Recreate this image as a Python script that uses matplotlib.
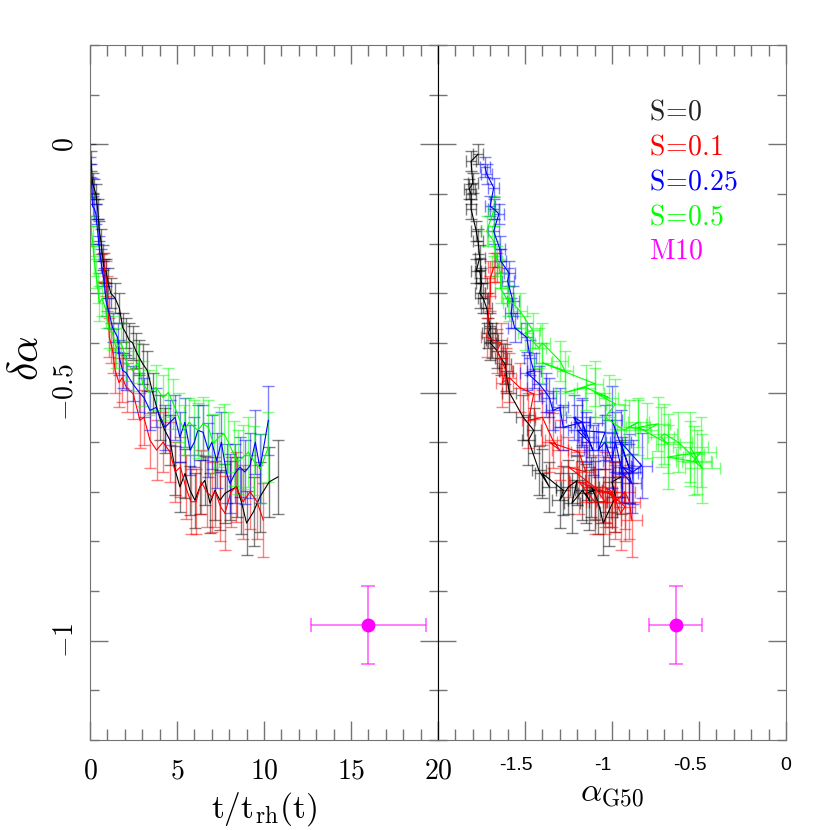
import matplotlib
matplotlib.use("Agg")
import matplotlib.pyplot as plt
import matplotlib.transforms as mtransforms
from matplotlib.ticker import MultipleLocator, FuncFormatter

plt.rcParams['mathtext.fontset'] = 'cm'
plt.rcParams['font.family'] = ['DejaVu Sans']

# ---------------- data ----------------
# S=0 (black)
t_s0 = [0.02, 0.06, 0.15, 0.25, 0.34, 0.44, 0.54, 0.63, 0.73, 0.82,
        0.92, 1.05, 1.2, 1.45, 1.69, 1.88, 2.06, 2.26, 2.45, 2.64,
        2.84, 3.03, 3.3, 3.6, 4.0, 4.3, 4.6, 4.9, 5.17, 5.46,
        5.75, 6.03, 6.32, 6.6, 6.9, 7.18, 7.47, 7.76, 8.05, 8.43,
        8.7, 9.0, 9.4, 9.77, 10.3, 10.8]
da_s0 = [-0.02, -0.034, -0.078, -0.09, -0.10, -0.13, -0.175, -0.195, -0.228, -0.255,
         -0.255, -0.28, -0.30, -0.31, -0.33, -0.369, -0.38, -0.395, -0.40, -0.416,
         -0.43, -0.442, -0.456, -0.50, -0.55, -0.576, -0.596, -0.657, -0.69, -0.663,
         -0.697, -0.717, -0.69, -0.677, -0.723, -0.697, -0.717, -0.703, -0.697, -0.69,
         -0.72, -0.763, -0.74, -0.71, -0.68, -0.67]
ag_s0 = [-1.77, -1.81, -1.80, -1.82, -1.81, -1.81, -1.78, -1.77, -1.76, -1.78,
         -1.76, -1.75, -1.76, -1.74, -1.72, -1.70, -1.71, -1.69, -1.70, -1.66,
         -1.64, -1.615, -1.61, -1.59, -1.51, -1.45, -1.48, -1.42, -1.36, -1.40,
         -1.28, -1.30, -1.25, -1.20, -1.23, -1.17, -1.13, -1.15, -1.10, -1.12,
         -1.08, -1.05, -1.02, -0.98, -1.00, -0.95]
eda_s0 = [0.02, 0.02, 0.02, 0.02, 0.02, 0.02, 0.02, 0.025, 0.025, 0.025,
          0.025, 0.03, 0.03, 0.03, 0.03, 0.03, 0.03, 0.035, 0.035, 0.035,
          0.035, 0.04, 0.04, 0.04, 0.045, 0.045, 0.05, 0.05, 0.05, 0.05,
          0.05, 0.055, 0.055, 0.05, 0.06, 0.06, 0.06, 0.06, 0.06, 0.06,
          0.065, 0.065, 0.07, 0.07, 0.07, 0.075]
eag_s0 = [0.03, 0.03, 0.03, 0.03, 0.03, 0.03, 0.03, 0.03, 0.03, 0.03,
          0.03, 0.03, 0.03, 0.03, 0.03, 0.035, 0.035, 0.035, 0.035, 0.035,
          0.035, 0.035, 0.04, 0.04, 0.04, 0.04, 0.04, 0.04, 0.04, 0.04,
          0.04, 0.045, 0.045, 0.045, 0.045, 0.045, 0.045, 0.045, 0.045, 0.045,
          0.05, 0.05, 0.05, 0.05, 0.05, 0.05]

# S=0.1 (red)
t_s1 = [0.75, 0.82, 0.92, 1.0, 1.11, 1.2, 1.3, 1.45, 1.67, 1.85,
        2.1, 2.49, 2.87, 3.1, 3.45, 3.83, 4.2, 4.6, 4.9, 5.2,
        5.5, 5.8, 6.1, 6.4, 6.7, 7.0, 7.2, 7.5, 7.76, 8.1,
        8.4, 8.8, 9.2, 9.6, 9.96]
da_s1 = [-0.248, -0.248, -0.27, -0.30, -0.389, -0.40, -0.416, -0.456, -0.48, -0.47,
         -0.49, -0.503, -0.556, -0.55, -0.596, -0.616, -0.60, -0.62, -0.66, -0.65,
         -0.69, -0.72, -0.72, -0.68, -0.70, -0.71, -0.70, -0.73, -0.743, -0.70,
         -0.69, -0.72, -0.70, -0.72, -0.757]
ag_s1 = [-1.66, -1.68, -1.70, -1.70, -1.72, -1.64, -1.66, -1.61, -1.63, -1.59,
         -1.53, -1.45, -1.48, -1.40, -1.34, -1.30, -1.36, -1.19, -1.15, -1.25,
         -1.10, -1.04, -1.10, -1.19, -1.04, -0.98, -1.02, -0.925, -0.95, -1.00,
         -1.04, -0.98, -0.925, -0.90, -0.886]
eda_s1 = [0.03, 0.03, 0.035, 0.035, 0.04, 0.04, 0.045, 0.045, 0.05, 0.05,
          0.05, 0.05, 0.055, 0.055, 0.055, 0.06, 0.06, 0.06, 0.06, 0.06,
          0.065, 0.065, 0.065, 0.065, 0.07, 0.07, 0.07, 0.07, 0.075, 0.07,
          0.07, 0.075, 0.075, 0.075, 0.075]
eag_s1 = [0.03, 0.03, 0.03, 0.03, 0.035, 0.035, 0.035, 0.035, 0.035, 0.04,
          0.04, 0.04, 0.04, 0.04, 0.045, 0.045, 0.045, 0.045, 0.045, 0.045,
          0.05, 0.05, 0.05, 0.05, 0.05, 0.05, 0.05, 0.055, 0.055, 0.055,
          0.055, 0.055, 0.06, 0.06, 0.06]

# S=0.25 (blue)
t_s2 = [0.03, 0.06, 0.1, 0.15, 0.25, 0.34, 0.44, 0.54, 0.63, 0.73,
        0.82, 0.92, 1.1, 1.3, 1.59, 1.69, 1.88, 2.07, 2.45, 2.84,
        3.1, 3.45, 3.8, 4.31, 4.6, 4.89, 5.17, 5.45, 5.75, 6.0,
        6.2, 6.5, 6.8, 7.0, 7.28, 7.55, 7.85, 8.05, 8.33, 8.62,
        8.9, 9.2, 9.5, 9.77, 10.25]
da_s2 = [-0.045, -0.06, -0.087, -0.125, -0.13, -0.14, -0.175, -0.21, -0.235, -0.26,
         -0.275, -0.315, -0.34, -0.369, -0.389, -0.43, -0.456, -0.46, -0.482, -0.50,
         -0.51, -0.536, -0.53, -0.57, -0.56, -0.55, -0.59, -0.56, -0.616, -0.60,
         -0.576, -0.58, -0.616, -0.60, -0.637, -0.60, -0.663, -0.683, -0.663, -0.65,
         -0.66, -0.647, -0.60, -0.653, -0.556]
ag_s2 = [-1.73, -1.72, -1.68, -1.70, -1.68, -1.65, -1.68, -1.645, -1.64, -1.59,
         -1.60, -1.57, -1.58, -1.56, -1.49, -1.47, -1.45, -1.49, -1.42, -1.38,
         -1.36, -1.34, -1.30, -1.28, -1.17, -1.22, -1.15, -1.17, -1.11, -1.13,
         -1.20, -1.04, -1.08, -1.04, -1.00, -0.98, -0.94, -0.886, -0.905, -0.94,
         -0.88, -0.83, -0.95, -0.90, -1.00]
eda_s2 = [0.02, 0.02, 0.02, 0.02, 0.02, 0.02, 0.025, 0.025, 0.025, 0.025,
          0.025, 0.03, 0.03, 0.03, 0.03, 0.035, 0.035, 0.035, 0.035, 0.04,
          0.04, 0.04, 0.04, 0.045, 0.045, 0.045, 0.05, 0.05, 0.05, 0.05,
          0.05, 0.055, 0.055, 0.055, 0.055, 0.06, 0.06, 0.06, 0.06, 0.06,
          0.065, 0.065, 0.065, 0.07, 0.07]
eag_s2 = [0.03, 0.03, 0.03, 0.03, 0.03, 0.03, 0.03, 0.03, 0.03, 0.03,
          0.035, 0.035, 0.035, 0.035, 0.035, 0.035, 0.04, 0.04, 0.04, 0.04,
          0.04, 0.04, 0.045, 0.045, 0.045, 0.045, 0.045, 0.045, 0.05, 0.05,
          0.05, 0.05, 0.05, 0.05, 0.05, 0.055, 0.055, 0.055, 0.055, 0.055,
          0.055, 0.06, 0.06, 0.06, 0.06]

# S=0.5 (green)
t_s3 = [0.02, 0.08, 0.15, 0.25, 0.34, 0.45, 0.54, 0.7, 0.92, 1.1,
        1.3, 1.5, 1.8, 2.07, 2.45, 2.75, 3.03, 3.4, 3.8, 4.2,
        4.5, 4.8, 5.1, 5.4, 5.7, 6.0, 6.2, 6.5, 6.8, 7.1,
        7.4, 7.7, 7.95, 8.25, 8.5, 8.8, 9.1, 9.4, 9.8, 10.25]
da_s3 = [-0.134, -0.175, -0.195, -0.235, -0.26, -0.29, -0.32, -0.31, -0.335, -0.375,
         -0.38, -0.41, -0.40, -0.436, -0.456, -0.44, -0.482, -0.50, -0.49, -0.51,
         -0.50, -0.523, -0.55, -0.576, -0.56, -0.57, -0.576, -0.563, -0.57, -0.603,
         -0.59, -0.583, -0.60, -0.623, -0.64, -0.63, -0.62, -0.637, -0.653, -0.61]
ag_s3 = [-1.68, -1.72, -1.68, -1.66, -1.64, -1.64, -1.59, -1.60, -1.53, -1.455,
         -1.50, -1.42, -1.40, -1.30, -1.27, -1.40, -1.10, -1.27, -1.15, -1.02,
         -1.10, -0.98, -1.04, -0.93, -0.85, -0.905, -0.80, -0.735, -0.85, -0.68,
         -0.72, -0.70, -0.62, -0.55, -0.51, -0.68, -0.49, -0.53, -0.48, -0.55]
eda_s3 = [0.03, 0.03, 0.03, 0.03, 0.03, 0.03, 0.035, 0.035, 0.035, 0.035,
          0.035, 0.04, 0.04, 0.04, 0.04, 0.04, 0.045, 0.045, 0.045, 0.045,
          0.05, 0.05, 0.05, 0.05, 0.05, 0.055, 0.055, 0.055, 0.055, 0.06,
          0.06, 0.06, 0.06, 0.065, 0.065, 0.065, 0.07, 0.07, 0.07, 0.07]
eag_s3 = [0.03, 0.03, 0.03, 0.03, 0.035, 0.035, 0.035, 0.035, 0.04, 0.04,
          0.04, 0.04, 0.045, 0.045, 0.045, 0.05, 0.05, 0.05, 0.05, 0.055,
          0.055, 0.055, 0.06, 0.06, 0.06, 0.065, 0.065, 0.07, 0.07, 0.07,
          0.075, 0.075, 0.08, 0.08, 0.085, 0.09, 0.09, 0.1, 0.1, 0.1]

# M10 reference point
m10_t, m10_t_err = 16.0, 3.3
m10_ag, m10_ag_err = -0.635, 0.15
m10_da, m10_da_err = -0.968, 0.078

series = [
    ("S=0", "black", t_s0, ag_s0, da_s0, eag_s0, eda_s0),
    ("S=0.1", "red", t_s1, ag_s1, da_s1, eag_s1, eda_s1),
    ("S=0.25", "blue", t_s2, ag_s2, da_s2, eag_s2, eda_s2),
    ("S=0.5", "#00ff00", t_s3, ag_s3, da_s3, eag_s3, eda_s3),
]

# ---------------- figure ----------------
fig = plt.figure(figsize=(8.3, 8.3), dpi=100)
ax1 = fig.add_axes([0.1084, 0.1084, 0.4193, 0.8373])
ax2 = fig.add_axes([0.5277, 0.1084, 0.4193, 0.8373], sharey=ax1)

for name, col, t, ag, da, eag, eda in series:
    ecol = matplotlib.colors.to_rgba(col, 0.5)
    ax1.errorbar(t, da, yerr=eda, color=col, lw=0.8, ecolor=ecol,
                 elinewidth=1.0, capsize=4, capthick=1.0)
    ax2.errorbar(ag, da, xerr=eag, yerr=eda, color=col, lw=0.8, ecolor=ecol,
                 elinewidth=1.0, capsize=4, capthick=1.0)

mag = matplotlib.colors.to_rgba("magenta", 0.6)
ax1.errorbar([m10_t], [m10_da], xerr=[m10_t_err], yerr=[m10_da_err], fmt='o',
             color='magenta', ms=9, ecolor=mag, elinewidth=1.2, capsize=5, capthick=1.2)
ax2.errorbar([m10_ag], [m10_da], xerr=[m10_ag_err], yerr=[m10_da_err], fmt='o',
             color='magenta', ms=9, ecolor=mag, elinewidth=1.2, capsize=5, capthick=1.2)

ax1.set_xlim(0, 20)
ax1.set_ylim(-1.2, 0.2)
ax2.set_xlim(-2, 0)

ax1.xaxis.set_major_locator(MultipleLocator(5))
ax1.xaxis.set_minor_locator(MultipleLocator(1))
ax1.yaxis.set_major_locator(MultipleLocator(0.5))
ax1.yaxis.set_minor_locator(MultipleLocator(0.1))
ax2.xaxis.set_minor_locator(MultipleLocator(0.1))


def cm_label(v, pos):
    v = round(v, 3) + 0.0
    return f"${v:g}$"


ax1.xaxis.set_major_formatter(FuncFormatter(cm_label))
ax1.yaxis.set_major_formatter(FuncFormatter(cm_label))

for ax in (ax1, ax2):
    ax.tick_params(which='both', direction='in', top=True, right=True, color='0.45', width=1)
    ax.tick_params(axis='x', which='major', length=14)
    ax.tick_params(axis='x', which='minor', length=8)
    ax.tick_params(axis='y', which='major', length=13)
    ax.tick_params(axis='y', which='minor', length=6.5)
    for sp in ax.spines.values():
        sp.set_color('0.45')
ax1.spines['right'].set_color('black')
ax2.spines['left'].set_color('black')

ax1.tick_params(axis='x', labelsize=20, pad=12)
ax1.tick_params(axis='y', labelsize=20, labelrotation=90, pad=8)
ax2.tick_params(axis='x', pad=12)
ax2.set_xticks([-2, -1.5, -1, -0.5, 0])
ax2.set_xticklabels(['', '-1.5', '-1', '-0.5', '0'], fontsize=14, family='Liberation Sans')
# the negative labels sit a little left of their ticks in the original
shift = mtransforms.ScaledTranslation(-9 / 100, 0, fig.dpi_scale_trans)
for lbl in ax2.get_xticklabels()[:-1]:
    lbl.set_transform(lbl.get_transform() + shift)
plt.setp(ax2.get_yticklabels(), visible=False)
for lbl in ax1.get_yticklabels():
    lbl.set_verticalalignment('center')

ax1.set_xlabel(r"$\mathrm{t/t_{rh}(t)}$", fontsize=24, labelpad=4)
ax2.set_xlabel(r"$\alpha_{\mathrm{G50}}$", fontsize=24, labelpad=2)
ax1.set_ylabel(r"$\delta\alpha$", fontsize=30)
ax1.yaxis.set_label_coords(-0.125, 0.55)

legend_items = [(r"\mathrm{S}\!=\!\mathrm{0}", "#222222"),
                (r"\mathrm{S}\!=\!\mathrm{0.1}", "red"),
                (r"\mathrm{S}\!=\!\mathrm{0.25}", "blue"),
                (r"\mathrm{S}\!=\!\mathrm{0.5}", "#00ff00"),
                (r"\mathrm{M10}", "magenta")]
for i, (txt, col) in enumerate(legend_items):
    ax2.text(0.605, 0.904 - i * 0.05, "$%s$" % txt, color=col, fontsize=20,
             transform=ax2.transAxes, va='center', ha='left')

fig.savefig("out.png", dpi=100)
